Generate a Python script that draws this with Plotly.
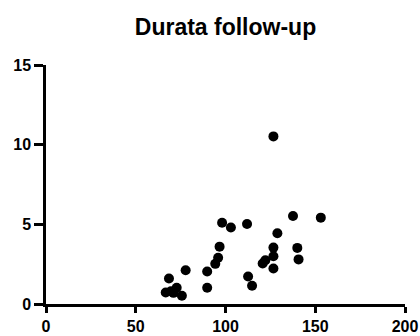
import plotly.graph_objects as go

x_vals = [66.7, 68.5, 69.6, 71.0, 72.8, 75.7, 77.8, 89.8, 89.8, 94.3, 95.9, 96.7,
          98.1, 103.0, 112.0, 112.6, 114.8, 120.7, 122.2, 126.7, 126.7, 126.7,
          126.7, 128.9, 137.6, 140.0, 140.7, 153.1]
y_vals = [0.72, 1.6, 0.8, 0.7, 1.02, 0.52, 2.12, 2.04, 1.02, 2.52, 2.9, 3.6,
          5.1, 4.8, 5.02, 1.73, 1.15, 2.54, 2.75, 3.54, 3.0, 2.23,
          10.52, 4.44, 5.52, 3.52, 2.8, 5.42]

x_ticks = [0, 50, 100, 150, 200]
y_ticks = [0, 5, 10, 15]

font_family = "Liberation Sans, Arial, sans-serif"

fig = go.Figure()
fig.add_trace(go.Scatter(
    x=x_vals, y=y_vals, mode="markers",
    marker=dict(color="black", size=10, line=dict(width=0)),
    cliponaxis=False, showlegend=False,
))

axis_common = dict(
    showline=True, linecolor="black", linewidth=2.5,
    ticks="outside", tickwidth=2.5, tickcolor="black",
    showgrid=False, zeroline=False, automargin=False,
    tickfont=dict(family=font_family, size=16, color="black", weight="bold"),
)

fig.update_layout(
    width=420, height=336,
    margin=dict(l=46, r=15, t=65, b=32),
    paper_bgcolor="white", plot_bgcolor="white",
    title=dict(text="Durata follow-up", x=0.5, xref="paper", xanchor="center",
               y=1 - 27 / 336, yref="container", yanchor="middle",
               font=dict(family=font_family, size=23, color="black", weight="bold")),
    xaxis=dict(range=[0, 200], tickvals=x_ticks, ticklen=6, **axis_common),
    yaxis=dict(range=[0, 15], tickvals=y_ticks, ticklen=9, **axis_common),
)

fig.write_html("out.html")
